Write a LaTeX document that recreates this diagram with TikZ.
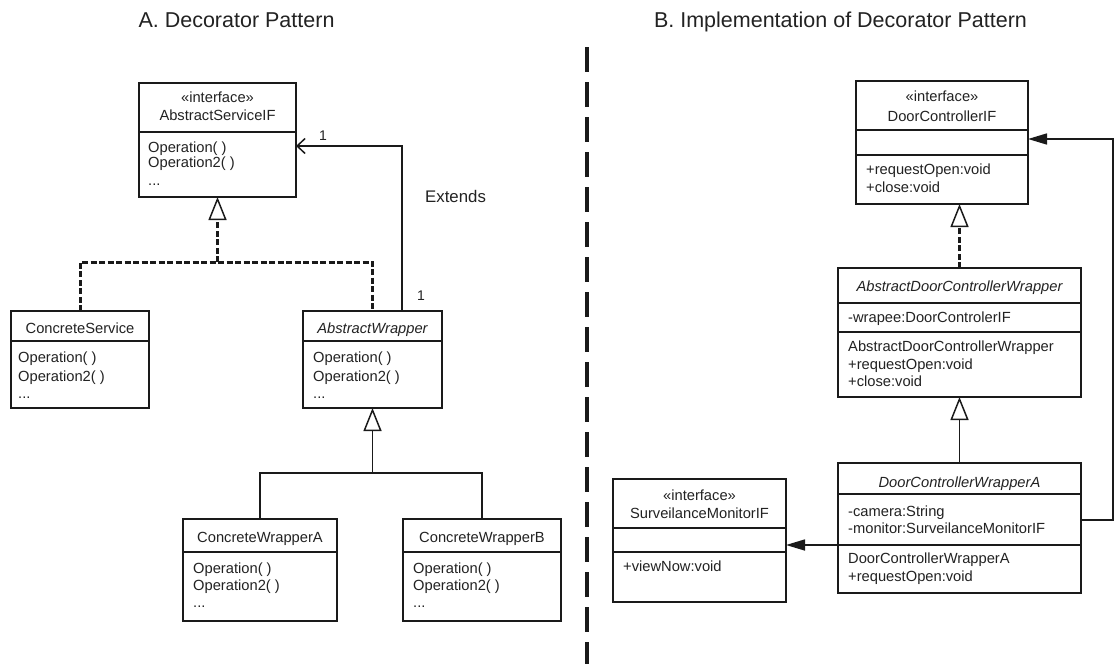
\documentclass[tikz,border=0pt]{standalone}
\usepackage{fontspec}
\setmainfont{Liberation Sans}
\usetikzlibrary{arrows.meta}

\definecolor{ink}{HTML}{1A1A1A}
\definecolor{txt}{HTML}{222222}

\newcommand\umlfont{\fontsize{14.7}{17}\selectfont}
% class box: name, left, top, right, bottom (y grows downwards)
\newcommand\umlbox[5]{\node[umlbox, minimum width={(#4-#2)*1pt}, minimum height={(#5-#3)*1pt}] (#1) at (#2,#3) {};}
% compartment separator across a box at a given height
\newcommand\umlsep[2]{\draw[umlline] (#1.west |- 0,#2) -- (#1.east |- 0,#2);}

\tikzset{
  umlbox/.style={draw=ink, line width=1.5pt, anchor=north west, inner sep=0pt, outer sep=0pt, fill=white},
  umlline/.style={draw=ink, line width=1.5pt},
  cname/.style={anchor=base, font=\umlfont, text=txt, inner sep=0pt},
  mem/.style={anchor=base west, font=\umlfont, text=txt, inner sep=0pt},
  heading/.style={anchor=base, font=\fontsize{21.5}{25}\selectfont, text=txt, inner sep=0pt},
  note/.style={anchor=base west, text=txt, inner sep=0pt},
  gen/.tip={Triangle[open, fill=white, length=23pt, width=18pt, line width=1.5pt]},
  assoc/.tip={Straight Barb[length=8pt, width=15pt, line width=1.5pt]},
  dep/.tip={Triangle[length=19pt, width=11pt]},
  realize/.style={draw=ink, line width=3pt, dash pattern=on 6pt off 2.5pt},
  link/.style={draw=ink, line width=1.6pt},
}

\begin{document}
\begin{tikzpicture}[x=1pt, y=-1pt]
\useasboundingbox (0,0) rectangle (1114,664);

% headings and the separating line
\node[heading] (headA) at (236.5,27) {A. Decorator Pattern};
\node[heading] (headB) at (840.5,27) {B. Implementation of Decorator Pattern};
\coordinate (divtop) at (587,47);
\coordinate (divbot) at (587,664);
\draw[ink, line width=3.3pt, dash pattern=on 25pt off 10pt] (divtop) -- (divbot);

% ---------------- A. Decorator Pattern ----------------
\umlbox{asif}{139}{83}{296}{197}
\umlsep{asif}{132}
\node[cname] (asif-s) at (asif.north |- 0,102) {«interface»};
\node[cname] (asif-n) at (asif.north |- 0,120) {AbstractServiceIF};
\node[mem] (asif-m1) at (148,152) {Operation( )};
\node[mem] (asif-m2) at (148,167) {Operation2( )};
\node[mem] (asif-m3) at (148,185) {...};

\umlbox{cs}{11}{311}{149}{408}
\umlsep{cs}{341}
\node[cname] (cs-n) at (cs.north |- 0,333) {ConcreteService};
\node[mem] (cs-m1) at (18,362) {Operation( )};
\node[mem] (cs-m2) at (18,381) {Operation2( )};
\node[mem] (cs-m3) at (18,398) {...};

\umlbox{aw}{303}{311}{442}{408}
\umlsep{aw}{341}
\node[cname] (aw-n) at (aw.north |- 0,333) {\itshape AbstractWrapper};
\node[mem] (aw-m1) at (313,362) {Operation( )};
\node[mem] (aw-m2) at (313,381) {Operation2( )};
\node[mem] (aw-m3) at (313,398) {...};

\umlbox{cwa}{183}{519}{337}{621}
\umlsep{cwa}{552}
\node[cname] (cwa-n) at (cwa.north |- 0,542) {ConcreteWrapperA};
\node[mem] (cwa-m1) at (193,573) {Operation( )};
\node[mem] (cwa-m2) at (193,590) {Operation2( )};
\node[mem] (cwa-m3) at (193,607) {...};

\umlbox{cwb}{403}{519}{561}{621}
\umlsep{cwb}{552}
\node[cname] (cwb-n) at (cwb.north |- 0,542) {ConcreteWrapperB};
\node[mem] (cwb-m1) at (413,573) {Operation( )};
\node[mem] (cwb-m2) at (413,590) {Operation2( )};
\node[mem] (cwb-m3) at (413,607) {...};

% realization of the service interface
\coordinate (jA) at (217.5,262);
\draw[realize] (cs.north) |- (jA) -| (aw.north);
\draw[realize, -gen] (jA) -- (asif.south);

% wrapper holds a reference to the service
\coordinate (awref) at ([xshift=99pt]aw.north west);
\draw[link, -assoc] (awref) |- ([yshift=-6pt]asif.east);
\node[note, font=\fontsize{14}{16}\selectfont] (mult1) at (319,140) {1};
\node[note, font=\fontsize{14}{16}\selectfont] (mult2) at (417,300) {1};
\node[note, font=\fontsize{16.8}{19}\selectfont] (ext) at (425,202) {Extends};

% concrete wrappers extend the abstract wrapper
\coordinate (jB) at (372.5,473);
\draw[link] (cwa.north) |- (jB) -| (cwb.north);
\draw[link, -gen] (jB) -- (aw.south);

% ---------------- B. Implementation ----------------
\umlbox{dcif}{856}{81}{1028}{204}
\umlsep{dcif}{130}
\umlsep{dcif}{155}
\node[cname] (dcif-s) at (dcif.north |- 0,101) {«interface»};
\node[cname] (dcif-n) at (dcif.north |- 0,121) {DoorControllerIF};
\node[mem] (dcif-m1) at (866,174) {+requestOpen:void};
\node[mem] (dcif-m2) at (866,192) {+close:void};

\umlbox{adcw}{838}{268}{1081}{397}
\umlsep{adcw}{303}
\umlsep{adcw}{332}
\node[cname] (adcw-n) at (adcw.north |- 0,291) {\itshape AbstractDoorControllerWrapper};
\node[mem] (adcw-a1) at (848,322) {-wrapee:DoorControlerIF};
\node[mem] (adcw-m1) at (848,351) {AbstractDoorControllerWrapper};
\node[mem] (adcw-m2) at (848,369) {+requestOpen:void};
\node[mem] (adcw-m3) at (848,386) {+close:void};

\umlbox{dcwa}{838}{463}{1081}{593}
\umlsep{dcwa}{494}
\umlsep{dcwa}{545}
\node[cname] (dcwa-n) at (dcwa.north |- 0,487) {\itshape DoorControllerWrapperA};
\node[mem] (dcwa-a1) at (848,516) {-camera:String};
\node[mem] (dcwa-a2) at (848,533) {-monitor:SurveilanceMonitorIF};
\node[mem] (dcwa-m1) at (848,563) {DoorControllerWrapperA};
\node[mem] (dcwa-m2) at (848,581) {+requestOpen:void};

\umlbox{smif}{613}{479}{786}{602}
\umlsep{smif}{528}
\umlsep{smif}{552}
\node[cname] (smif-s) at (smif.north |- 0,500) {«interface»};
\node[cname] (smif-n) at (smif.north |- 0,518) {SurveilanceMonitorIF};
\node[mem] (smif-m1) at (623,571) {+viewNow:void};

% abstract wrapper realizes the controller interface
\draw[realize, -gen] (adcw.north) -- (adcw.north |- dcif.south);
% concrete wrapper extends the abstract wrapper
\draw[link, -gen] (dcwa.north) -- (adcw.south);
% wrapper uses the monitor
\coordinate (monref) at ([yshift=-17pt]dcwa.west);
\draw[link, -dep] (monref) -- (monref -| smif.east);
% wrapper refers back to the controller interface
\coordinate (bend) at (1113,520);
\draw[link, -dep] (dcwa.east |- bend) -- (bend) |- ([yshift=3.5pt]dcif.east);
\end{tikzpicture}
\end{document}
